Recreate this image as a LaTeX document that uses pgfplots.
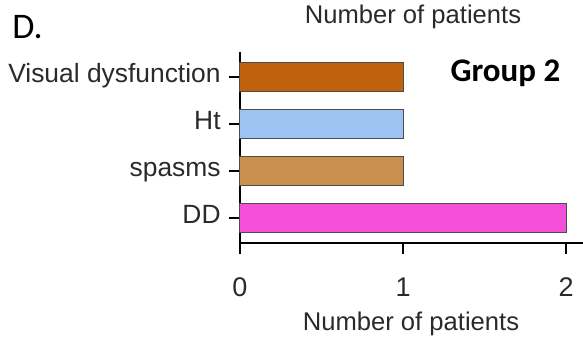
\documentclass[border=0pt]{standalone}
\usepackage{pgfplots}
\pgfplotsset{compat=1.18}
\usepackage{fontspec}
\setmainfont{Liberation Sans}
\newfontfamily\calibri{Carlito}
\definecolor{cVD}{HTML}{C0620C}
\definecolor{cHt}{HTML}{9DC3F2}
\definecolor{cSp}{HTML}{C98F4C}
\definecolor{cDD}{HTML}{F34FD9}
\definecolor{txt}{HTML}{2A2A2A}
\begin{document}
\begin{tikzpicture}
\useasboundingbox (-120pt,-47.5pt) rectangle (171.5pt,121.5pt);
\begin{axis}[
  at={(0pt,0pt)}, anchor=origin,
  scale only axis,
  width=171.5pt, height=95.5pt,
  xmin=0, xmax=2.104,
  ymin=0.47, ymax=4.53,
  axis x line=bottom, axis y line=left,
  axis line style={-, line width=1pt, black},
  xtick={0,1,2},
  ytick={1,2,3,4},
  yticklabels={DD,spasms,Ht,Visual dysfunction},
  tick style={line width=1pt, black},
  major tick length=5.5pt,
  tick align=outside,
  xticklabel style={anchor=base, inner sep=0pt, yshift=-21pt, font=\fontsize{13.5pt}{14pt}\selectfont, text=txt},
  yticklabel style={anchor=mid east, inner sep=0pt, xshift=-4pt, font=\fontsize{13.2pt}{14pt}\selectfont, text=txt},
  /pgf/number format/assume math mode=true,
  xbar, bar width=0.63, bar shift=0pt,
  clip=false,
]
\addplot[fill=cDD, draw=black!70, line width=0.5pt] coordinates {(2,1)};
\addplot[fill=cSp, draw=black!70, line width=0.5pt] coordinates {(1,2)};
\addplot[fill=cHt, draw=black!70, line width=0.5pt] coordinates {(1,3)};
\addplot[fill=cVD, draw=black!70, line width=0.5pt] coordinates {(1,4)};
\end{axis}
\node[anchor=base, inner sep=0pt, text=txt, font=\fontsize{12.8pt}{14pt}\selectfont] at (86.5pt,110pt) {Number of patients};
\node[anchor=base, inner sep=0pt, text=txt, font=\fontsize{12.8pt}{14pt}\selectfont] at (85.5pt,-43.5pt) {Number of patients};
\node[anchor=base west, inner sep=0pt, font=\calibri\fontsize{18pt}{20pt}\selectfont] at (-114pt,102.5pt) {D.};
\node[anchor=base, inner sep=0pt, font=\calibri\bfseries\fontsize{16.5pt}{18pt}\selectfont] at (132.75pt,81pt) {Group 2};
\end{tikzpicture}
\end{document}
